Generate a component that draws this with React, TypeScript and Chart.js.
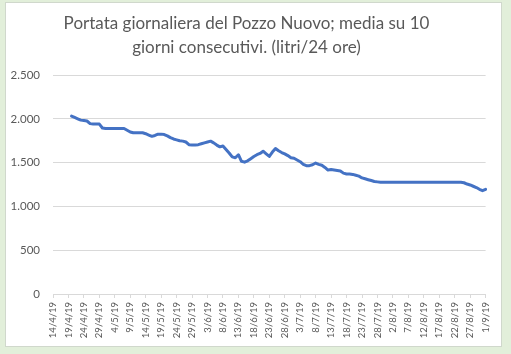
import React, { useEffect, useRef } from "react";
import { Chart, registerables } from "chart.js";

Chart.register(...registerables);

const TITLE_LINES = [
  "Portata giornaliera del Pozzo Nuovo; media su 10",
  "giorni consecutivi. (litri/24 ore)",
];

// [month, first day, last day] spans of the daily category axis (2019)
const MONTH_SPANS: number[][] = [
  [4, 14, 30],
  [5, 1, 31],
  [6, 1, 30],
  [7, 1, 31],
  [8, 1, 31],
  [9, 1, 1],
];
const YEAR_SUFFIX = "19";
const LABEL_EVERY = 5;

// days on the axis before the series starts (14/4 .. 19/4)
const LEADING_EMPTY_DAYS = 6;

// daily 10-day moving average, from 20/4/19 to 1/9/19
const FLOW_VALUES = [
  2030, 2015, 2000, 1985, 1980, 1975, 1945, 1940, 1940, 1940,
  1895, 1890, 1890, 1890, 1890, 1890, 1890, 1890, 1870, 1850,
  1840, 1840, 1840, 1840, 1830, 1815, 1800, 1810, 1825, 1825,
  1820, 1805, 1785, 1770, 1760, 1750, 1745, 1735, 1705, 1700,
  1700, 1705, 1715, 1725, 1735, 1745, 1725, 1700, 1680, 1690,
  1650, 1610, 1565, 1555, 1590, 1515, 1505, 1520, 1545, 1570,
  1590, 1605, 1630, 1600, 1570, 1620, 1660, 1635, 1615, 1600,
  1580, 1555, 1550, 1530, 1510, 1480, 1465, 1465, 1475, 1495,
  1480, 1470, 1445, 1415, 1420, 1415, 1410, 1405, 1380, 1370,
  1370, 1365, 1355, 1345, 1325, 1315, 1305, 1295, 1285, 1280,
  1275, 1275, 1275, 1275, 1275, 1275, 1275, 1275, 1275, 1275,
  1275, 1275, 1275, 1275, 1275, 1275, 1275, 1275, 1275, 1275,
  1275, 1275, 1275, 1275, 1275, 1275, 1275, 1270, 1255, 1245,
  1230, 1215, 1195, 1180, 1195,
];

const Y_MIN = 0;
const Y_MAX = 2500;
const Y_STEP = 500;

const CATEGORIES: string[] = [];
for (const [m, d0, d1] of MONTH_SPANS) {
  for (let d = d0; d <= d1; d++) CATEGORIES.push(`${d}/${m}/${YEAR_SUFFIX}`);
}

const SERIES: (number | null)[] = [
  ...new Array(LEADING_EMPTY_DAYS).fill(null),
  ...FLOW_VALUES,
];

const TEXT = "#595959";
const GRID = "#D9D9D9";
const FONT = "Lato";

function fmt(v: number) {
  return String(Math.round(v)).replace(/\B(?=(\d{3})+(?!\d))/g, ".");
}

export default function App() {
  const ref = useRef<HTMLCanvasElement | null>(null);

  useEffect(() => {
    document.body.style.margin = "0";
    const canvas = ref.current;
    if (!canvas) return;
    const chart = new Chart(canvas, {
      type: "line",
      data: {
        labels: CATEGORIES,
        datasets: [
          {
            data: SERIES,
            borderColor: "#4472C4",
            backgroundColor: "#4472C4",
            borderWidth: 3,
            pointRadius: 0,
            tension: 0,
            spanGaps: false,
            borderJoinStyle: "round",
            borderCapStyle: "round",
          },
        ],
      },
      options: {
        responsive: false,
        maintainAspectRatio: false,
        animation: false,
        layout: { padding: { left: 0, right: 14, top: 0, bottom: 0 } },
        plugins: {
          legend: { display: false },
          tooltip: { enabled: false },
          title: {
            display: true,
            text: TITLE_LINES,
            color: TEXT,
            font: { family: FONT, size: 17, weight: "normal", lineHeight: "24px" },
            padding: { top: 9, bottom: 15 },
          },
        },
        scales: {
          x: {
            type: "category",
            offset: false,
            grid: {
              display: true,
              drawOnChartArea: false,
              drawTicks: true,
              tickLength: 4,
              color: (ctx: any) => (ctx.index % LABEL_EVERY === 0 ? GRID : "rgba(0,0,0,0)"),
            },
            border: { display: true, color: GRID, width: 1 },
            ticks: {
              autoSkip: false,
              minRotation: 90,
              maxRotation: 90,
              padding: 4,
              color: TEXT,
              font: { family: FONT, size: 9.5 },
              callback: (_v: any, i: number) => (i % LABEL_EVERY === 0 ? CATEGORIES[i] : ""),
            },
            afterFit: (s: any) => {
              s.height = 52;
            },
          },
          y: {
            min: Y_MIN,
            max: Y_MAX,
            grid: { color: GRID, drawTicks: false, lineWidth: 1 },
            border: { display: false },
            ticks: {
              stepSize: Y_STEP,
              padding: 13,
              color: TEXT,
              font: { family: FONT, size: 11.5 },
              callback: (v: any) => fmt(Number(v)),
            },
            afterFit: (s: any) => {
              s.width = 47;
            },
          },
        },
      },
    });
    return () => chart.destroy();
  }, []);

  return (
    <div style={{ position: "relative", width: 511, height: 354, background: "#E2EFDA" }}>
      <div
        style={{
          position: "absolute",
          left: 6,
          top: 3,
          width: 495,
          height: 343,
          background: "#FFFFFF",
          boxShadow: "0 0 0 1px #D0D8CC",
        }}
      >
        <canvas ref={ref} width={495} height={343} style={{ display: "block" }} />
      </div>
    </div>
  );
}
